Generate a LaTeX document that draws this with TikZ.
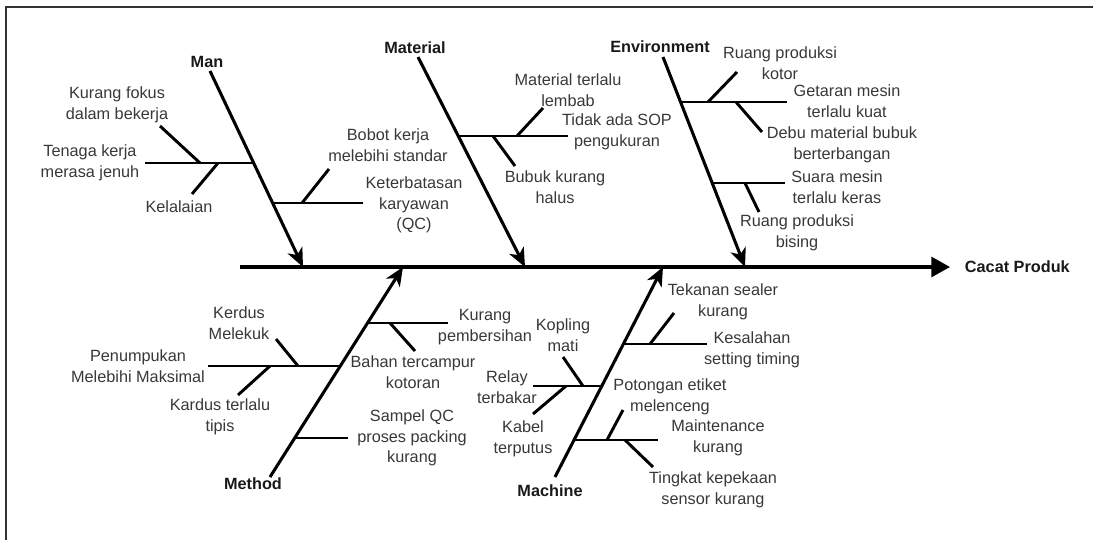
\documentclass[tikz,border=0pt]{standalone}
\usepackage{fontspec}
\setmainfont{Liberation Sans}
\usetikzlibrary{arrows.meta, positioning}

\begin{document}
\begin{tikzpicture}[
    x=0.75pt, y=-0.75pt,
    every node/.style={font=\fontsize{12.2}{15.4}\selectfont, align=center, text=black!78, inner sep=1pt},
    cat/.style={font=\fontsize{12.2}{15}\selectfont\bfseries, text=black!90},
    bone/.style={line width=2.3pt, -{Stealth[length=14pt, width=12pt, inset=4pt]}},
    twig/.style={line width=2.2pt},
    spine/.style={line width=2.3pt, -{Triangle[length=14pt, width=15pt]}},
    frame/.style={line width=1.5pt, black!80}
]
    \useasboundingbox (0,0) rectangle (1093,540);
    \draw[frame] (6,540) |- (1093,7);

    \coordinate (spineL) at (240,267);
    \coordinate (spineR) at (950,267);
    \node[cat, right=10pt of spineR] (effect) {Cacat Produk};
    \draw[spine] (spineL) -- (spineR);

    \node[cat] (man) at (207,62) {Man};
    \coordinate (manTop) at (210,71);
    \coordinate (manTip) at (303,267);
    \coordinate (man1) at (253.7,163);
    \coordinate (man1e) at (145,163);
    \coordinate (man1a) at (200,163);
    \coordinate (man1ae) at (160,126);
    \coordinate (man1b) at (218,163);
    \coordinate (man1be) at (192,194);
    \coordinate (man2) at (272.6,203);
    \coordinate (man2e) at (363,203);
    \coordinate (man2a) at (302,203);
    \coordinate (man2ae) at (329,169);
    \node (jenuh) at (90,163) {Tenaga kerja\\merasa jenuh};
    \node (fokus) at (117,105) {Kurang fokus\\dalam bekerja};
    \node (lalai) at (179,207) {Kelalaian};
    \node (qc) at (414,205) {Keterbatasan\\karyawan\\(QC)};
    \node (bobot) at (388,145) {Bobot kerja\\melebihi standar};
    \draw[bone] (manTop) -- (manTip);
    \draw[twig] (man1) -- (man1e);
    \draw[twig] (man1a) -- (man1ae);
    \draw[twig] (man1b) -- (man1be);
    \draw[twig] (man2) -- (man2e);
    \draw[twig] (man2a) -- (man2ae);

    \node[cat] (material) at (415,48) {Material};
    \coordinate (matTop) at (418,57);
    \coordinate (matTip) at (525,267);
    \coordinate (mat1) at (458.3,136);
    \coordinate (mat1e) at (568,136);
    \coordinate (mat1a) at (517,136);
    \coordinate (mat1ae) at (543,108);
    \coordinate (mat1b) at (493,136);
    \coordinate (mat1be) at (515,166);
    \node (sop) at (617,132) {Tidak ada SOP\\pengukuran};
    \node (lembab) at (568,90) {Material terlalu\\lembab};
    \node (bubuk) at (555,187) {Bubuk kurang\\halus};
    \draw[bone] (matTop) -- (matTip);
    \draw[twig] (mat1) -- (mat1e);
    \draw[twig] (mat1a) -- (mat1ae);
    \draw[twig] (mat1b) -- (mat1be);

    \node[cat] (environment) at (660,47) {Environment};
    \coordinate (envTop) at (663,57);
    \coordinate (envTip) at (745,267);
    \coordinate (env1) at (680.6,102);
    \coordinate (env1e) at (787,102);
    \coordinate (env1a) at (708,102);
    \coordinate (env1ae) at (737,72);
    \coordinate (env1b) at (736,102);
    \coordinate (env1be) at (762,132);
    \coordinate (env2) at (712.2,183);
    \coordinate (env2e) at (785,183);
    \coordinate (env2a) at (745,183);
    \coordinate (env2ae) at (759,212);
    \node (getaran) at (847,101) {Getaran mesin\\terlalu kuat};
    \node (kotor) at (780,63) {Ruang produksi\\kotor};
    \node (debu) at (842,145) {Debu material bubuk\\berterbangan};
    \node (suara) at (837,187) {Suara mesin\\terlalu keras};
    \node (bising) at (797,233) {Ruang produksi\\bising};
    \draw[bone] (envTop) -- (envTip);
    \draw[twig] (env1) -- (env1e);
    \draw[twig] (env1a) -- (env1ae);
    \draw[twig] (env1b) -- (env1be);
    \draw[twig] (env2) -- (env2e);
    \draw[twig] (env2a) -- (env2ae);

    \node[cat] (method) at (253,484) {Method};
    \coordinate (metBot) at (270,477);
    \coordinate (metTip) at (403,267);
    \coordinate (met1) at (340.3,366);
    \coordinate (met1e) at (208,366);
    \coordinate (met1a) at (298,366);
    \coordinate (met1ae) at (276,339);
    \coordinate (met1b) at (270,366);
    \coordinate (met1be) at (238,395);
    \coordinate (met2) at (367.5,323);
    \coordinate (met2e) at (448,323);
    \coordinate (met2a) at (390,323);
    \coordinate (met2ae) at (415,351);
    \coordinate (met3) at (294.7,438);
    \coordinate (met3e) at (348,438);
    \node (tumpuk) at (138,366) {Penumpukan\\Melebihi Maksimal};
    \node (lekuk) at (239,323) {Kerdus\\Melekuk};
    \node (tipis) at (220,417) {Kardus terlalu\\tipis};
    \node (bersih) at (485,327) {Kurang\\pembersihan};
    \node (campur) at (413,372) {Bahan tercampur\\kotoran};
    \node (sampel) at (412,438) {Sampel QC\\proses packing\\kurang};
    \draw[bone] (metBot) -- (metTip);
    \draw[twig] (met1) -- (met1e);
    \draw[twig] (met1a) -- (met1ae);
    \draw[twig] (met1b) -- (met1be);
    \draw[twig] (met2) -- (met2e);
    \draw[twig] (met2a) -- (met2ae);
    \draw[twig] (met3) -- (met3e);

    \node[cat] (machine) at (550,491) {Machine};
    \coordinate (macBot) at (555,477);
    \coordinate (macTip) at (663,267);
    \coordinate (mac1) at (623.4,344);
    \coordinate (mac1e) at (707,344);
    \coordinate (mac1a) at (650,344);
    \coordinate (mac1ae) at (674,313);
    \coordinate (mac2) at (601.8,386);
    \coordinate (mac2e) at (533,386);
    \coordinate (mac2a) at (583,386);
    \coordinate (mac2ae) at (563,357);
    \coordinate (mac2b) at (566,386);
    \coordinate (mac2be) at (533,414);
    \coordinate (mac3) at (574,440);
    \coordinate (mac3e) at (658,440);
    \coordinate (mac3a) at (607,440);
    \coordinate (mac3ae) at (623,410);
    \coordinate (mac3b) at (625,440);
    \coordinate (mac3be) at (653,467);
    \node (timing) at (752,350) {Kesalahan\\setting timing};
    \node (sealer) at (723,302) {Tekanan sealer\\kurang};
    \node (relay) at (507,387) {Relay\\terbakar};
    \node (kopling) at (563,335) {Kopling\\mati};
    \node (kabel) at (523,439) {Kabel\\terputus};
    \node (maint) at (718,438) {Maintenance\\kurang};
    \node (etiket) at (670,397) {Potongan etiket\\melenceng};
    \node (sensor) at (713,490) {Tingkat kepekaan\\sensor kurang};
    \draw[bone] (macBot) -- (macTip);
    \draw[twig] (mac1) -- (mac1e);
    \draw[twig] (mac1a) -- (mac1ae);
    \draw[twig] (mac2) -- (mac2e);
    \draw[twig] (mac2a) -- (mac2ae);
    \draw[twig] (mac2b) -- (mac2be);
    \draw[twig] (mac3) -- (mac3e);
    \draw[twig] (mac3a) -- (mac3ae);
    \draw[twig] (mac3b) -- (mac3be);
\end{tikzpicture}
\end{document}
